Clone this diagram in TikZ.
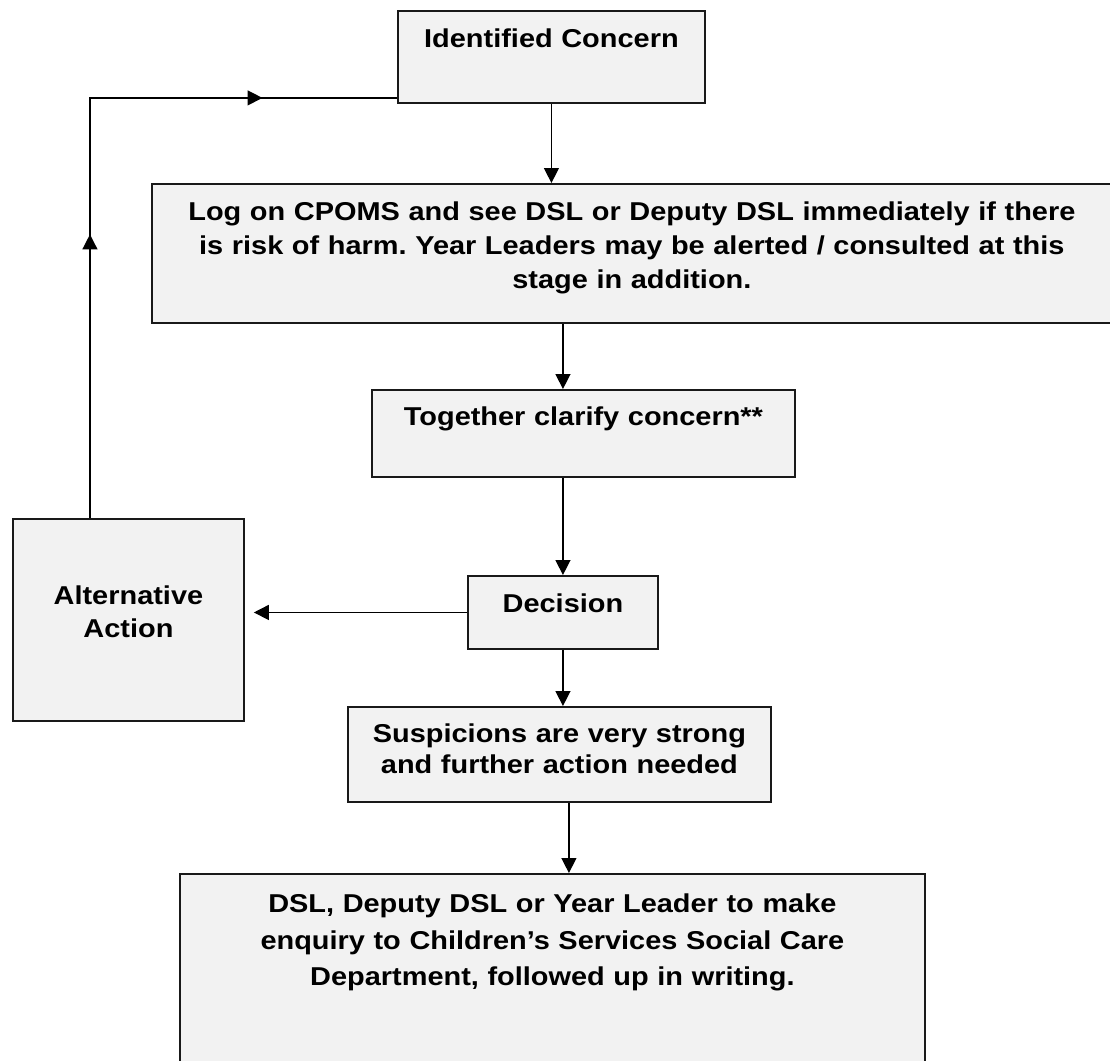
\documentclass[tikz,border=0pt]{standalone}
\usepackage{fontspec}
\setmainfont{Liberation Sans}[FakeStretch=1.12]
\usepackage{tikz}
\usetikzlibrary{arrows.meta,decorations.markings,calc}
\definecolor{boxgray}{HTML}{F2F2F2}
\frenchspacing
\tikzset{
	flowbox/.style={draw=black!90, fill=boxgray, line width=1.1pt, inner xsep=0pt, inner ysep=0pt, align=center, anchor=north west, font=\bfseries\fontsize{14.7pt}{19.3pt}\selectfont},
	flow/.style={-{Triangle[length=8.5pt,width=8.5pt]}, line width=0.8pt},
	backflow/.style={line width=0.8pt, postaction={decorate}, decoration={markings,
		mark=at position 0.39 with {\arrow{Triangle[length=8.5pt,width=8.5pt]}},
		mark=at position 0.815 with {\arrow{Triangle[length=8.5pt,width=8.5pt]}}}}
}
\begin{document}
\begin{tikzpicture}[x=0.02cm,y=-0.02cm]
						\useasboundingbox (0,0) rectangle (1110,1061);
						\node[flowbox, text width=6.14cm, text height=0.74cm, text depth=1.10cm] (ident) at (397,10) {Identified Concern};
						\node[flowbox, text width=19.2cm, text height=0.74cm, text depth=2.04cm] (log) at (151,183) {Log on CPOMS and see DSL or Deputy DSL immediately if there\\is risk of harm. Year Leaders may be alerted / consulted at this\\stage in addition.};
						\node[flowbox, text width=8.46cm, text height=0.72cm, text depth=1.02cm] (together) at (371,389) {Together clarify concern**};
						\node[flowbox, text width=4.62cm, text height=1.72cm, text depth=2.32cm, font=\bfseries\fontsize{14.7pt}{18.7pt}\selectfont] (alt) at (12,518) {Alternative\\Action};
						\node[flowbox, text width=3.8cm, text height=0.74cm, text depth=0.72cm] (decision) at (467,575) {Decision};
						\node[flowbox, text width=8.46cm, text height=0.72cm, text depth=1.18cm, font=\bfseries\fontsize{14.7pt}{17.6pt}\selectfont] (susp) at (347,706) {Suspicions are very strong\\and further action needed};
						\node[flowbox, text width=14.9cm, text height=0.78cm, text depth=3.26cm, font=\bfseries\fontsize{14.7pt}{20.7pt}\selectfont] (dsl) at (179,873) {DSL, Deputy DSL or Year Leader to make\\enquiry to Children’s Services Social Care\\Department, followed up in writing.};
						\coordinate (backstart) at ([xshift=-0.77cm]alt.north);
						\coordinate (backend) at ([yshift=0.12cm]ident.south west);
						\draw[flow] (ident.south) -- (ident.south |- log.north);
						\draw[flow] (log.south -| decision.north) -- (together.north -| decision.north);
						\draw[flow] (together.south -| decision.north) -- (decision.north);
						\draw[flow, shorten >=5.1pt] (decision.west) -- (decision.west -| alt.east);
						\draw[flow] (decision.south) -- (decision.south |- susp.north);
						\draw[flow] ([xshift=0.19cm]susp.south) -- ([xshift=0.19cm]susp.south |- dsl.north);
						\draw[backflow] (backstart) |- (backend);
					\end{tikzpicture}
\end{document}
